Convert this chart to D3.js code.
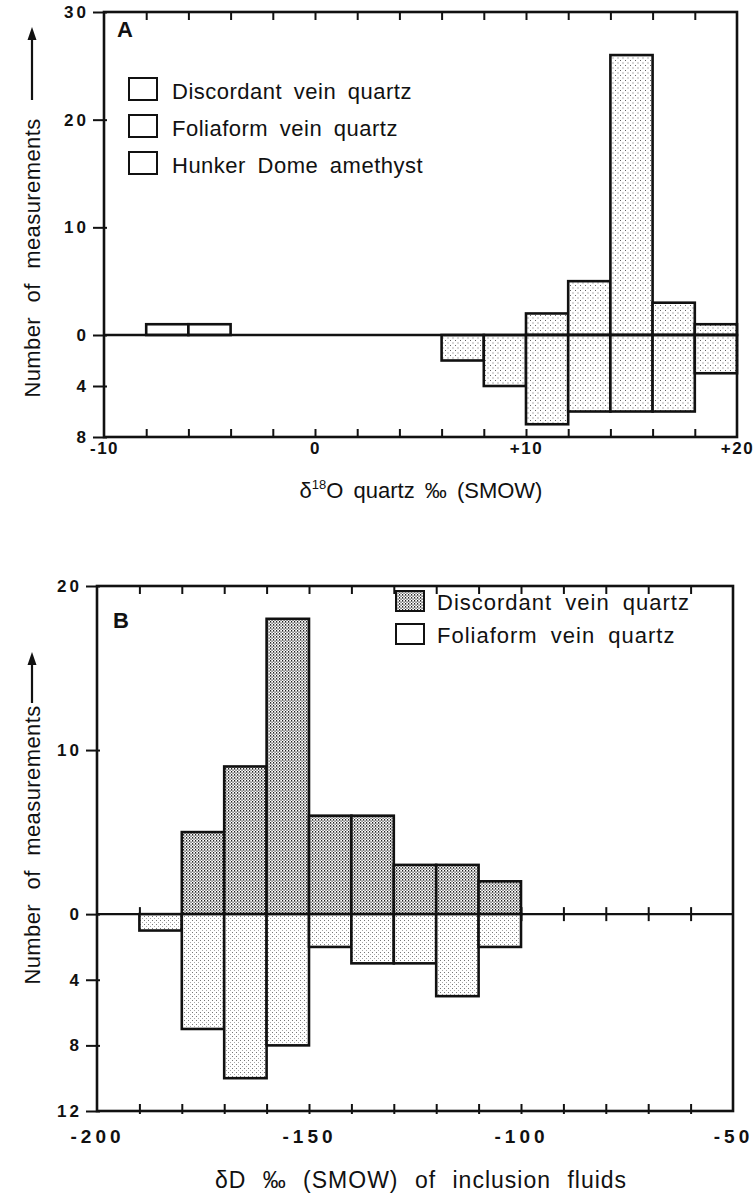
<!DOCTYPE html>
<html>
<head>
<meta charset="utf-8">
<script src="https://cdn.jsdelivr.net/npm/d3@7"></script>
<style>
  body { margin: 0; background: #fff; }
  text { font-family: "Liberation Sans", Arial, Helvetica, sans-serif; fill: #111; }
</style>
</head>
<body>
<div id="chart"></div>
<script>
// Panel A: delta 18O of quartz, 2 per mil bins (value = bin start)
const aDiscordantBins = [10, 12, 14, 16, 18];
const aDiscordantCounts = [2, 5, 26, 3, 1];
const aFoliaformBins = [6, 8, 10, 12, 14, 16, 18];
const aFoliaformCounts = [2, 4, 7, 6, 6, 6, 3];
const aHunkerBins = [-8, -6];
const aHunkerCounts = [1, 1];
const aUpTicks = [0, 10, 20, 30];
const aDownTicks = [4, 8];
const aXLabels = [-10, 0, 10, 20];
const aLegend = ["Discordant vein quartz", "Foliaform vein quartz", "Hunker Dome amethyst"];

// Panel B: delta D of inclusion fluids, 10 per mil bins
const bDiscordantBins = [-180, -170, -160, -150, -140, -130, -120, -110];
const bDiscordantCounts = [5, 9, 18, 6, 6, 3, 3, 2];
const bFoliaformBins = [-190, -180, -170, -160, -150, -140, -130, -120, -110];
const bFoliaformCounts = [1, 7, 10, 8, 2, 3, 3, 5, 2];
const bUpTicks = [0, 10, 20];
const bDownTicks = [4, 8, 12];
const bXLabels = [-200, -150, -100, -50];
const bLegend = ["Discordant vein quartz", "Foliaform vein quartz"];

const width = 756, height = 1196;
const svg = d3.select("#chart").append("svg")
    .attr("width", width)
    .attr("height", height);

// stipple fills
const defs = svg.append("defs");
function stipple(id, w, h, dots, color) {
    const p = defs.append("pattern")
        .attr("id", id)
        .attr("patternUnits", "userSpaceOnUse")
        .attr("width", w)
        .attr("height", h);
    p.append("rect").attr("width", w).attr("height", h).attr("fill", "#fff");
    dots.forEach(d => {
        p.append("rect").attr("x", d[0]).attr("y", d[1])
            .attr("width", d[2]).attr("height", d[3]).attr("fill", color);
    });
}
stipple("stipA", 5, 5, [[0, 0, 1, 1], [2.5, 2.5, 1, 1]], "#666");
stipple("stipDark", 3, 3, [[0, 0, 1.2, 1.6], [1.5, 1.5, 1.1, 1.3]], "#222");
stipple("stipLight", 4, 4, [[0, 0, 1, 1], [2, 2, 0.8, 0.8]], "#777");

const lw = 2.6;

function yLabel(cy, arrowTop, arrowBottom) {
    svg.append("text")
        .attr("transform", `translate(40,${cy}) rotate(-90)`)
        .attr("text-anchor", "middle")
        .attr("font-size", "22px")
        .attr("word-spacing", "8px")
        .attr("letter-spacing", "0.4px")
        .text("Number of measurements");
    svg.append("line")
        .attr("x1", 32).attr("x2", 32)
        .attr("y1", arrowBottom).attr("y2", arrowTop + 8)
        .attr("stroke", "#111").attr("stroke-width", 2.2);
    svg.append("path")
        .attr("d", `M 32 ${arrowTop} L 27.5 ${arrowTop + 13} L 36.5 ${arrowTop + 13} Z`)
        .attr("fill", "#111");
}

function drawBars(g, x, y, bins, counts, step, fill, down) {
    g.selectAll(null)
        .data(bins.map((b, i) => ({ b, c: counts[i] })))
        .join("rect")
        .attr("x", d => x(d.b))
        .attr("width", d => x(d.b + step) - x(d.b))
        .attr("y", d => down ? y(0) : y(d.c))
        .attr("height", d => Math.abs(y(d.c) - y(0)))
        .attr("fill", fill)
        .attr("stroke", "#111")
        .attr("stroke-width", lw);
}

function frameAndYAxis(g, x, yUp, yDown, upTicks, downTicks, left, right, top, bottom) {
    const leftAxis = (scale, ticks) => g.append("g")
        .attr("transform", `translate(${left},0)`)
        .call(d3.axisLeft(scale).tickValues(ticks).tickSize(11).tickPadding(4).tickFormat(d => String(d)))
        .call(s => s.select(".domain").remove())
        .call(s => s.selectAll(".tick line").attr("x2", -11).attr("x1", 3).attr("stroke", "#111").attr("stroke-width", 2))
        .call(s => s.selectAll(".tick text")
            .attr("font-size", "17px").attr("font-weight", "bold")
            .attr("letter-spacing", "3px").attr("fill", "#111")
            .attr("font-family", "'Liberation Sans', Arial, sans-serif"));
    leftAxis(yUp, upTicks);
    leftAxis(yDown, downTicks);
    g.append("rect")
        .attr("x", left).attr("y", top)
        .attr("width", right - left).attr("height", bottom - top)
        .attr("fill", "none").attr("stroke", "#111").attr("stroke-width", lw);
}

// ---------------- Panel A ----------------
{
    const left = 104, right = 737, top = 12, zero = 335, bottom = 437;
    const x = d3.scaleLinear().domain([-10, 20]).range([left, right]);
    const yUp = d3.scaleLinear().domain([0, 30]).range([zero, top]);
    const yDown = d3.scaleLinear().domain([0, 8]).range([zero, bottom]);
    const g = svg.append("g");

    // inner ticks on top and bottom edges
    g.append("g").attr("transform", `translate(0,${top})`)
        .call(d3.axisTop(x).tickValues(d3.range(-8, 20, 2)).tickSize(-8).tickFormat(""))
        .call(s => s.select(".domain").remove())
        .call(s => s.selectAll(".tick line").attr("stroke", "#111").attr("stroke-width", 2));
    g.append("g").attr("transform", `translate(0,${bottom})`)
        .call(d3.axisBottom(x).tickValues(d3.range(-8, 20, 2)).tickSize(-8).tickFormat(""))
        .call(s => s.select(".domain").remove())
        .call(s => s.selectAll(".tick line").attr("stroke", "#111").attr("stroke-width", 2));

    drawBars(g, x, yUp, aHunkerBins, aHunkerCounts, 2, "#fff", false);
    drawBars(g, x, yUp, aDiscordantBins, aDiscordantCounts, 2, "url(#stipA)", false);
    drawBars(g, x, yDown, aFoliaformBins, aFoliaformCounts, 2, "url(#stipA)", true);

    g.append("line")
        .attr("x1", left).attr("x2", right)
        .attr("y1", zero).attr("y2", zero)
        .attr("stroke", "#111").attr("stroke-width", 2.4);

    frameAndYAxis(g, x, yUp, yDown, aUpTicks, aDownTicks, left, right, top, bottom);

    g.append("g").attr("transform", `translate(0,${bottom})`)
        .call(d3.axisBottom(x).tickValues(aXLabels).tickSize(0).tickPadding(5)
            .tickFormat(d => d > 0 ? "+" + d : String(d)))
        .call(s => s.select(".domain").remove())
        .call(s => s.selectAll(".tick text")
            .attr("font-size", "17px").attr("font-weight", "bold").attr("letter-spacing", "1.5px")
            .attr("fill", "#111").attr("font-family", "'Liberation Sans', Arial, sans-serif"));

    g.append("text").attr("x", 117).attr("y", 37)
        .attr("font-size", "22px").attr("font-weight", "bold").text("A");

    const leg = g.append("g");
    aLegend.forEach((name, i) => {
        const ly = 78 + i * 37;
        leg.append("rect").attr("x", 129).attr("y", ly)
            .attr("width", 28).attr("height", 22)
            .attr("fill", "#fff").attr("stroke", "#111").attr("stroke-width", 2);
        leg.append("text").attr("x", 172).attr("y", ly + 21)
            .attr("font-size", "22px").attr("word-spacing", "5px").attr("letter-spacing", "0.5px")
            .text(name);
    });

    const title = g.append("text").attr("x", 421).attr("y", 498)
        .attr("text-anchor", "middle").attr("font-size", "22px").attr("word-spacing", "4px");
    title.append("tspan").text("δ");
    title.append("tspan").attr("font-size", "13px").attr("dy", -9).text("18");
    title.append("tspan").attr("dy", 9).text("O quartz ‰ (SMOW)");

    yLabel(258, 27, 100);
}

// ---------------- Panel B ----------------
{
    const left = 97, right = 733, top = 586, bottom = 1111;
    const x = d3.scaleLinear().domain([-200, -50]).range([left, right]);
    const yUp = d3.scaleLinear().domain([-12, 20]).range([bottom, top]);
    const yDown = d3.scaleLinear().domain([12, -20]).range([bottom, top]);
    const zero = yUp(0);
    const g = svg.append("g");

    g.append("g").attr("transform", `translate(0,${top})`)
        .call(d3.axisTop(x).tickValues(d3.range(-190, -50, 10)).tickSize(-8).tickFormat(""))
        .call(s => s.select(".domain").remove())
        .call(s => s.selectAll(".tick line").attr("stroke", "#111").attr("stroke-width", 2));
    g.append("g").attr("transform", `translate(0,${bottom})`)
        .call(d3.axisBottom(x).tickValues(d3.range(-190, -50, 10)).tickSize(-7).tickFormat(""))
        .call(s => s.select(".domain").remove())
        .call(s => s.selectAll(".tick line").attr("y1", 3).attr("stroke", "#111").attr("stroke-width", 2));
    // crossing ticks along the zero line
    g.append("g").attr("transform", `translate(0,${zero})`)
        .call(d3.axisBottom(x).tickValues(d3.range(-190, -50, 10)).tickSize(-7).tickFormat(""))
        .call(s => s.select(".domain").remove())
        .call(s => s.selectAll(".tick line").attr("y1", 7).attr("stroke", "#111").attr("stroke-width", 2));

    g.append("line")
        .attr("x1", left).attr("x2", right)
        .attr("y1", zero).attr("y2", zero)
        .attr("stroke", "#111").attr("stroke-width", 2.4);

    drawBars(g, x, yUp, bDiscordantBins, bDiscordantCounts, 10, "url(#stipDark)", false);
    drawBars(g, x, yDown, bFoliaformBins, bFoliaformCounts, 10, "url(#stipLight)", true);

    frameAndYAxis(g, x, yUp, yDown, bUpTicks, bDownTicks, left, right, top, bottom);

    g.append("g").attr("transform", `translate(0,${bottom})`)
        .call(d3.axisBottom(x).tickValues(bXLabels).tickSize(0).tickPadding(19).tickFormat(d => String(d)))
        .call(s => s.select(".domain").remove())
        .call(s => s.selectAll(".tick text")
            .attr("font-size", "19px").attr("font-weight", "bold").attr("letter-spacing", "4px")
            .attr("fill", "#111").attr("font-family", "'Liberation Sans', Arial, sans-serif"));

    g.append("text").attr("x", 113).attr("y", 628)
        .attr("font-size", "22px").attr("font-weight", "bold").text("B");

    const fills = ["url(#stipDark)", "#fff"];
    const leg = g.append("g");
    bLegend.forEach((name, i) => {
        const ly = 591 + i * 33;
        leg.append("rect").attr("x", 396).attr("y", ly)
            .attr("width", 28).attr("height", 20)
            .attr("fill", fills[i]).attr("stroke", "#111").attr("stroke-width", 2);
        leg.append("text").attr("x", 437).attr("y", ly + 19)
            .attr("font-size", "22px").attr("word-spacing", "6px").attr("letter-spacing", "1px")
            .text(name);
    });

    g.append("text").attr("x", 421).attr("y", 1188)
        .attr("text-anchor", "middle").attr("font-size", "23px")
        .attr("word-spacing", "9px").attr("letter-spacing", "1px")
        .text("δD ‰ (SMOW) of inclusion fluids");

    yLabel(845, 652, 703);
}
</script>
</body>
</html>
